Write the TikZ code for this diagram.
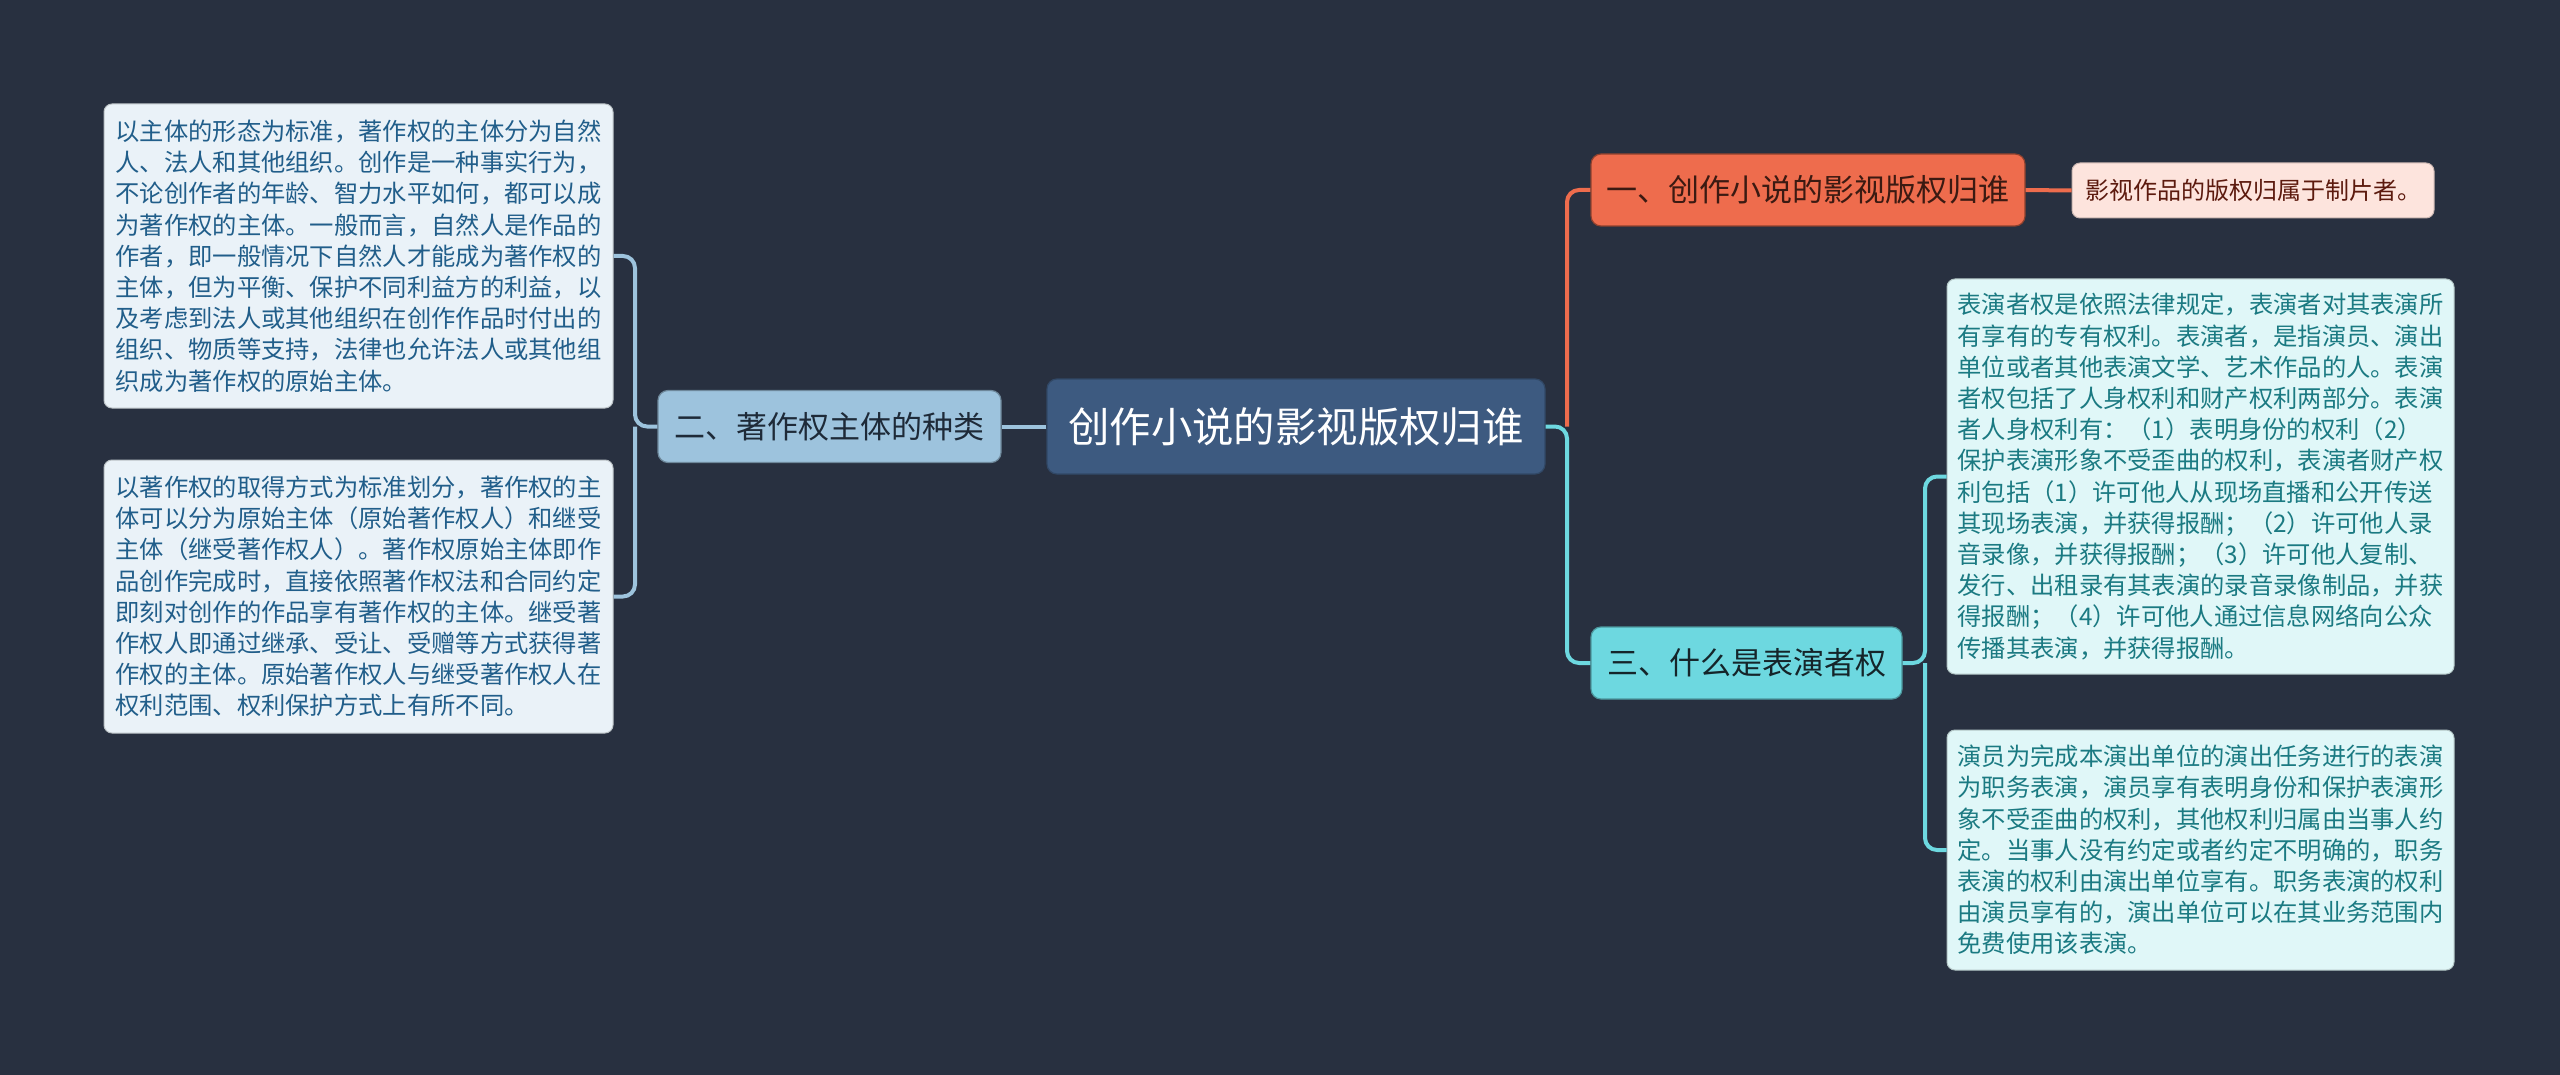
\documentclass[tikz,border=0pt]{standalone}
\usepackage{fontspec}
\setmainfont{Noto Sans CJK SC}
\begin{document}
\begin{tikzpicture}[x=0.5pt,y=-0.5pt,
  box/.style={rounded corners=4pt,inner sep=0pt,align=left,anchor=center},
  leaftext/.style={font=\fontsize{12.15}{15.6}\selectfont},
  maintext/.style={font=\fontsize{15.5}{18}\selectfont},
  centernode/.style={box,fill=cnfill,draw=cnfill!80!black,line width=0.6pt,text=white,
     font=\fontsize{20.7}{24}\selectfont,minimum width=249pt,minimum height=47.5pt,align=center,rounded corners=5pt},
  leftmain/.style={box,fill=lbfill,draw=lbfill!70!black,line width=0.6pt,text=lbtext,maintext,
     minimum width=171.5pt,minimum height=36pt,align=center,rounded corners=5pt},
  leftleaf/.style={box,fill=llfill,draw=llfill!80!black,line width=0.5pt,text=lltext,leaftext,
     minimum width=254.5pt},
  orangemain/.style={box,fill=orfill,draw=orfill!60!black,line width=0.6pt,text=ortext,maintext,
     minimum width=217pt,minimum height=36pt,align=center,rounded corners=5pt},
  orangeleaf/.style={box,fill=opfill,draw=opfill!80!black,line width=0.5pt,text=optext,
     font=\fontsize{12}{15}\selectfont,minimum width=181pt,minimum height=27.5pt,align=center},
  cyanmain/.style={box,fill=cyfill,draw=cyfill!70!black,line width=0.6pt,text=cytext,maintext,
     minimum width=155.5pt,minimum height=36pt,align=center,rounded corners=5pt},
  cyanleaf/.style={box,fill=clfill,draw=clfill!80!black,line width=0.5pt,text=cltext,leaftext,
     minimum width=253.5pt},
  bluelink/.style={draw=lbfill,line width=2pt,rounded corners=6pt},
  orangelink/.style={draw=orfill,line width=2pt,rounded corners=6pt},
  cyanlink/.style={draw=cyfill,line width=2pt,rounded corners=6pt}
]
\definecolor{bgc}{HTML}{283040}
\definecolor{cnfill}{HTML}{3D5A80}
\definecolor{lbfill}{HTML}{9DC3DD}
\definecolor{lbtext}{HTML}{1E2A38}
\definecolor{llfill}{HTML}{EAF2F8}
\definecolor{lltext}{HTML}{215E8A}
\definecolor{orfill}{HTML}{EE6C4D}
\definecolor{ortext}{HTML}{3B1A12}
\definecolor{opfill}{HTML}{FDE4DD}
\definecolor{optext}{HTML}{5C1A0E}
\definecolor{cyfill}{HTML}{6DD8E0}
\definecolor{cytext}{HTML}{15252A}
\definecolor{clfill}{HTML}{E0F7F8}
\definecolor{cltext}{HTML}{1B7A82}

\fill[bgc] (0,0) rectangle (2560,1075);
\useasboundingbox (0,0) rectangle (2560,1075);

% nodes
\node[centernode] (c) at (1296,426.5) {创作小说的影视版权归谁};
\node[leftmain] (n2) at (829.5,426.5) {二、著作权主体的种类};
\node[leftleaf,minimum height=152pt] (l1) at (358.5,256) {以主体的形态为标准，著作权的主体分为自然\\人、法人和其他组织。创作是一种事实行为，\\不论创作者的年龄、智力水平如何，都可以成\\为著作权的主体。一般而言，自然人是作品的\\作者，即一般情况下自然人才能成为著作权的\\主体，但为平衡、保护不同利益方的利益，以\\及考虑到法人或其他组织在创作作品时付出的\\组织、物质等支持，法律也允许法人或其他组\\织成为著作权的原始主体。};
\node[leftleaf,minimum height=136.5pt] (l2) at (358.5,596.5) {以著作权的取得方式为标准划分，著作权的主\\体可以分为原始主体（原始著作权人）和继受\\主体（继受著作权人）。著作权原始主体即作\\品创作完成时，直接依照著作权法和合同约定\\即刻对创作的作品享有著作权的主体。继受著\\作权人即通过继承、受让、受赠等方式获得著\\作权的主体。原始著作权人与继受著作权人在\\权利范围、权利保护方式上有所不同。};

\node[orangemain] (n1) at (1808,190) {一、创作小说的影视版权归谁};
\node[orangeleaf] (r1) at (2253,190.5) {影视作品的版权归属于制片者。};

\node[cyanmain] (n3) at (1746.5,663) {三、什么是表演者权};
\node[cyanleaf,minimum height=197.5pt] (r3a) at (2200.5,476.5) {表演者权是依照法律规定，表演者对其表演所\\有享有的专有权利。表演者，是指演员、演出\\单位或者其他表演文学、艺术作品的人。表演\\者权包括了人身权利和财产权利两部分。表演\\者人身权利有：（1）表明身份的权利（2）\\保护表演形象不受歪曲的权利，表演者财产权\\利包括（1）许可他人从现场直播和公开传送\\其现场表演，并获得报酬；（2）许可他人录\\音录像，并获得报酬；（3）许可他人复制、\\发行、出租录有其表演的录音录像制品，并获\\得报酬；（4）许可他人通过信息网络向公众\\传播其表演，并获得报酬。};
\node[cyanleaf,minimum height=120pt] (r3b) at (2200.5,850) {演员为完成本演出单位的演出任务进行的表演\\为职务表演，演员享有表明身份和保护表演形\\象不受歪曲的权利，其他权利归属由当事人约\\定。当事人没有约定或者约定不明确的，职务\\表演的权利由演出单位享有。职务表演的权利\\由演员享有的，演出单位可以在其业务范围内\\免费使用该表演。};

% junction coordinates
\coordinate (jl) at (635,426.5);
\coordinate (jr) at (1567,426.5);
\coordinate (j3) at (1925,663);

% connectors
\draw[bluelink] (c.west) -- (n2.east);
\draw[bluelink] (n2.west) -- (jl) |- (l1.east);
\draw[bluelink] (jl) |- (l2.east);
\draw[orangelink] (jr) |- (n1.west);
\draw[orangelink] (n1.east) -- (r1.west);
\draw[cyanlink] (c.east) -- (jr) |- (n3.west);
\draw[cyanlink] (n3.east) -- (j3) |- (r3a.west);
\draw[cyanlink] (j3) |- (r3b.west);
\end{tikzpicture}
\end{document}
